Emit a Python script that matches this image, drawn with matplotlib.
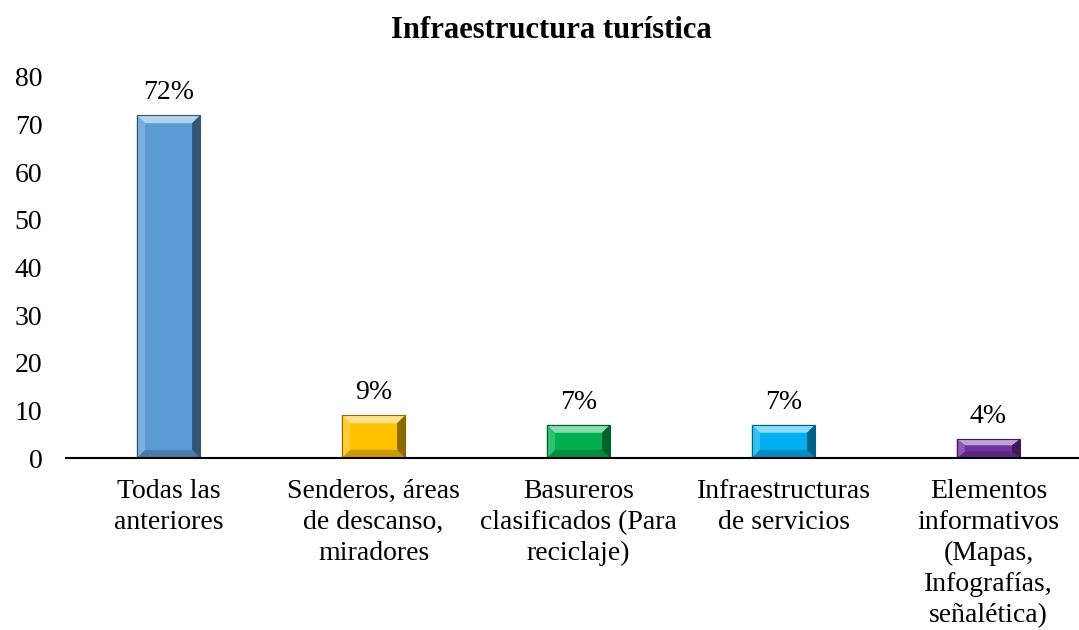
import matplotlib.pyplot as plt
from matplotlib.patches import Polygon
import matplotlib.colors as mc

categories = ["Todas las\nanteriores",
              "Senderos, áreas\nde descanso,\nmiradores",
              "Basureros\nclasificados (Para\nreciclaje)",
              "Infraestructuras\nde servicios",
              "Elementos\ninformativos\n(Mapas,\nInfografías,\nseñalética)"]
values = [72, 9, 7, 7, 4]
labels = ["72%", "9%", "7%", "7%", "4%"]
colors = ["#5B9BD5", "#FFC000", "#00B050", "#00B0F0", "#7030A0"]

plt.rcParams['font.family'] = ['Liberation Serif', 'DejaVu Serif']

fig = plt.figure(figsize=(10.79, 6.30), dpi=100)
ax = fig.add_axes([66 / 1079, 1 - 458 / 630, 1025 / 1079, 381 / 630])

width = 0.31
bars = ax.bar(range(len(values)), values, width=width, color=colors,
              edgecolor="none", zorder=2)

# bevel edges, sized from each bar's own geometry
bx = 0.04
by = 1.7
for rect, c in zip(bars, colors):
    x0, y0 = rect.get_x(), rect.get_y()
    w, h = rect.get_width(), rect.get_height()
    x1, y1 = x0 + w, y0 + h
    dy = min(by, h / 3)
    base = mc.to_rgb(c)
    light = tuple(v + (1 - v) * 0.55 for v in base)
    mid_light = tuple(v + (1 - v) * 0.2 for v in base)
    dark = tuple(v * 0.55 for v in base)
    mid_dark = tuple(v * 0.8 for v in base)
    ax.add_patch(Polygon([(x0, y1), (x1, y1), (x1 - bx, y1 - dy), (x0 + bx, y1 - dy)],
                         closed=True, color=light, zorder=3, lw=0))
    ax.add_patch(Polygon([(x0, y0), (x1, y0), (x1 - bx, y0 + dy), (x0 + bx, y0 + dy)],
                         closed=True, color=mid_dark, zorder=3, lw=0))
    ax.add_patch(Polygon([(x0, y0), (x0, y1), (x0 + bx, y1 - dy), (x0 + bx, y0 + dy)],
                         closed=True, color=mid_light, zorder=3, lw=0))
    ax.add_patch(Polygon([(x1, y0), (x1, y1), (x1 - bx, y1 - dy), (x1 - bx, y0 + dy)],
                         closed=True, color=dark, zorder=3, lw=0))
    ax.add_patch(plt.Rectangle((x0, y0), w, h, fill=False, edgecolor=dark,
                               lw=0.8, zorder=4))

for i, (v, lab) in enumerate(zip(values, labels)):
    ax.annotate(lab, (i, v), xytext=(0, 7), textcoords="offset points",
                ha="center", va="bottom", fontsize=20)

ax.set_xlim(-0.5, len(values) - 0.5)
ax.set_ylim(0, 80)
ax.set_yticks(range(0, 81, 10))
ax.set_xticks(range(len(values)))
ax.set_xticklabels(categories, fontsize=20, linespacing=1.31, va="top")
ax.tick_params(axis="y", length=0, labelsize=20, pad=17)
ax.tick_params(axis="x", length=0, pad=15)
for s in ["top", "right", "left"]:
    ax.spines[s].set_visible(False)
ax.spines["bottom"].set_linewidth(1.5)
ax.spines["bottom"].set_zorder(5)

fig.text(551 / 1079, 1 - 31 / 630, "Infraestructura turística", ha="center", va="center",
         fontsize=22, fontweight="bold")

plt.savefig("out.png", dpi=100)
